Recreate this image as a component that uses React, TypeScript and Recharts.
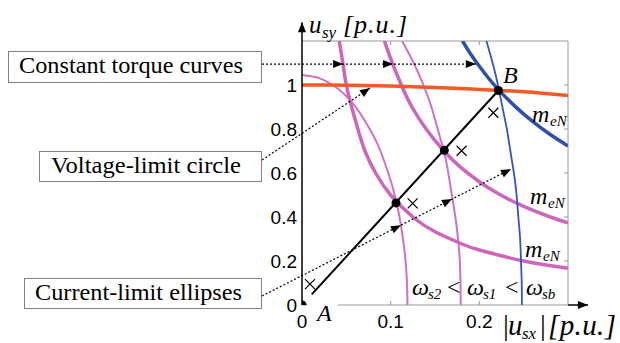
import React from 'react';
import { ComposedChart, Line, XAxis, YAxis, ReferenceLine } from 'recharts';

// tick values
const xTicks = [0, 0.1, 0.2];
const yTicks = [0, 0.2, 0.4, 0.6, 0.8, 1];

// voltage-limit circle (orange)
const voltageLimit = [
  { x: 0, y: 1.0 }, { x: 0.05, y: 0.999 }, { x: 0.1, y: 0.995 }, { x: 0.15, y: 0.989 },
  { x: 0.2, y: 0.98 }, { x: 0.25, y: 0.969 }, { x: 0.3, y: 0.952 },
];

// constant torque curves m_eN (thick)
const torqueLow = [
  { x: 0.042, y: 1.2 }, { x: 0.046, y: 1.1 }, { x: 0.05, y: 1.0 }, { x: 0.056, y: 0.9 },
  { x: 0.063, y: 0.8 }, { x: 0.071, y: 0.7 }, { x: 0.083, y: 0.6 }, { x: 0.1, y: 0.5 },
  { x: 0.125, y: 0.4 }, { x: 0.15, y: 0.333 }, { x: 0.18, y: 0.278 }, { x: 0.2, y: 0.25 },
  { x: 0.25, y: 0.2 }, { x: 0.3, y: 0.167 },
];
const torqueMid = [
  { x: 0.093, y: 1.2 }, { x: 0.1, y: 1.12 }, { x: 0.112, y: 1.0 }, { x: 0.124, y: 0.9 },
  { x: 0.14, y: 0.8 }, { x: 0.16, y: 0.7 }, { x: 0.18, y: 0.622 }, { x: 0.2, y: 0.56 },
  { x: 0.22, y: 0.509 }, { x: 0.25, y: 0.448 }, { x: 0.28, y: 0.4 }, { x: 0.3, y: 0.373 },
];
const torqueRated = [
  { x: 0.181, y: 1.2 }, { x: 0.19, y: 1.142 }, { x: 0.2, y: 1.085 }, { x: 0.21, y: 1.033 },
  { x: 0.22, y: 0.986 }, { x: 0.24, y: 0.904 }, { x: 0.26, y: 0.835 }, { x: 0.28, y: 0.775 },
  { x: 0.3, y: 0.723 },
];

// current-limit ellipses (thin)
const ellipseWs2 = [
  { x: 0, y: 1.045 }, { x: 0.02, y: 1.03 }, { x: 0.04, y: 0.984 }, { x: 0.06, y: 0.903 },
  { x: 0.08, y: 0.774 }, { x: 0.09, y: 0.684 }, { x: 0.1, y: 0.566 }, { x: 0.105, y: 0.492 },
  { x: 0.11, y: 0.399 }, { x: 0.115, y: 0.268 }, { x: 0.118, y: 0.135 }, { x: 0.119, y: 0 },
];
const ellipseWs1 = [
  { x: 0.113, y: 1.2 }, { x: 0.126, y: 1.1 }, { x: 0.137, y: 1.0 }, { x: 0.146, y: 0.9 },
  { x: 0.153, y: 0.8 }, { x: 0.16, y: 0.7 }, { x: 0.165, y: 0.6 }, { x: 0.169, y: 0.5 },
  { x: 0.173, y: 0.4 }, { x: 0.176, y: 0.3 }, { x: 0.178, y: 0.2 }, { x: 0.1788, y: 0.1 },
  { x: 0.179, y: 0 },
];
const ellipseWsb = [
  { x: 0.208, y: 1.2 }, { x: 0.215, y: 1.1 }, { x: 0.221, y: 1.0 }, { x: 0.226, y: 0.9 },
  { x: 0.231, y: 0.8 }, { x: 0.235, y: 0.7 }, { x: 0.239, y: 0.6 }, { x: 0.242, y: 0.5 },
  { x: 0.244, y: 0.4 }, { x: 0.246, y: 0.3 }, { x: 0.247, y: 0.2 }, { x: 0.2478, y: 0.1 },
  { x: 0.248, y: 0 },
];

// trajectory A -> B, operating points and cross marks
const pathAB = [{ x: 0.011, y: 0.048 }, { x: 0.2215, y: 0.975 }];
const opPoints = [{ x: 0, y: 0 }, { x: 0.106, y: 0.464 }, { x: 0.1605, y: 0.703 }, { x: 0.2215, y: 0.975 }];
const crossMarks = [{ x: 0.009, y: 0.095 }, { x: 0.1248, y: 0.462 }, { x: 0.18, y: 0.701 }, { x: 0.2158, y: 0.874 }];

// annotation arrows (start, end in data units) and arrowhead fractions
const torqueArrow = [{ x: -0.0451, y: 1.095 }, { x: 0.196, y: 1.095 }];
const torqueHeads = [0.379, 0.613, 1];
const voltageArrow = [{ x: -0.0451, y: 0.659 }, { x: 0.0767, y: 0.986 }];
const currentArrow = [{ x: -0.0451, y: 0.041 }, { x: 0.2357, y: 0.618 }];
const currentHeads = [0.558, 0.763, 1];

const PINK = '#cc66bb';
const PINK_THIN = '#d070c6';
const BLUE = '#2f4fa8';
const BLUE_THIN = '#3355c0';
const ORANGE = '#f15a24';
const GRAY = '#999';
const SERIF = "'Liberation Serif', 'Times New Roman', Times, serif";

const arrowShape = (heads: number[], dashed: boolean, width = 1.2) => (props: any) => {
  const { x1, y1, x2, y2 } = props;
  const dx = x2 - x1;
  const dy = y2 - y1;
  const len = Math.hypot(dx, dy) || 1;
  const ux = dx / len;
  const uy = dy / len;
  return (
    <g>
      <line x1={x1} y1={y1} x2={x2} y2={y2} stroke="#000" strokeWidth={width}
        strokeDasharray={dashed ? '2 2' : undefined} />
      {heads.map((t, i) => {
        const tx = x1 + dx * t;
        const ty = y1 + dy * t;
        const bx = tx - ux * 10;
        const by = ty - uy * 10;
        return (
          <polygon key={i} fill="#000"
            points={`${tx},${ty} ${bx - uy * 4},${by + ux * 4} ${bx + uy * 4},${by - ux * 4}`} />
        );
      })}
    </g>
  );
};

const renderCross = (p: any) => (
  <path key={`c${p.index}`} d={`M${p.cx - 5},${p.cy - 5}L${p.cx + 5},${p.cy + 5}M${p.cx - 5},${p.cy + 5}L${p.cx + 5},${p.cy - 5}`}
    stroke="#000" strokeWidth={1.2} fill="none" />
);

const sans = { fontFamily: "'Liberation Sans', Arial, sans-serif", fontSize: 19, fill: '#000' };

const Box = ({ x, y, w, h, text, tx, tw }: any) => (
  <g>
    <rect x={x + 0.5} y={y + 0.5} width={w} height={h} fill="#fff" stroke="#808080" strokeWidth={1} />
    <text x={tx} y={y + 22} fontSize={23} fontFamily={SERIF} textLength={tw} lengthAdjust="spacingAndGlyphs">{text}</text>
  </g>
);

const Overlay = () => (
  <svg width={620} height={343} fontFamily={SERIF} style={{ position: 'absolute', left: 0, top: 0, pointerEvents: 'none' }}>
    <Box x={8} y={51} w={253} h={31} text="Constant torque curves" tx={19} tw={224} />
    <Box x={39} y={151} w={222} h={30} text="Voltage-limit circle" tx={51} tw={190} />
    <Box x={24} y={278} w={237} h={30} text="Current-limit ellipses" tx={35} tw={207} />

    {/* y axis title */}
    <g fontStyle="italic" fontFamily={SERIF}>
      <text x={309} y={33} fontSize={25}>u</text>
      <text x={322} y={38} fontSize={17}>sy</text>
      <text x={343} y={33} fontSize={26} textLength={64} lengthAdjust="spacing">[p.u.]</text>
    </g>
    {/* x axis title */}
    <g fontStyle="italic" fontFamily={SERIF}>
      <text x={503} y={335} fontSize={29} fontStyle="normal">|</text>
      <text x={508} y={335} fontSize={29}>u</text>
      <text x={522} y={339} fontSize={17}>sx</text>
      <text x={540} y={335} fontSize={29} fontStyle="normal">|</text>
      <text x={548} y={335} fontSize={29} textLength={68} lengthAdjust="spacing">[p.u.]</text>
    </g>

    {/* point labels */}
    <rect x={307} y={302} width={31} height={6} fill="#fff" />
    <text x={317} y={321} fontSize={24} fontStyle="italic" fontFamily={SERIF}>A</text>
    <text x={503} y={83} fontSize={24} fontStyle="italic" fontFamily={SERIF}>B</text>

    {/* m_eN labels */}
    <g fontStyle="italic" fontFamily={SERIF}>
      <text x={532} y={122} fontSize={24}>m</text>
      <text x={550} y={126} fontSize={15}>eN</text>
      <text x={530} y={204} fontSize={24}>m</text>
      <text x={548} y={208} fontSize={15}>eN</text>
      <text x={525} y={257} fontSize={24}>m</text>
      <text x={543} y={261} fontSize={15}>eN</text>
    </g>

    {/* frequency ordering */}
    <g fontFamily={SERIF}>
      <text x={412} y={295} fontSize={24} fontStyle="italic">ω</text>
      <text x={428} y={299} fontSize={15} fontStyle="italic">s2</text>
      <text x={447} y={295} fontSize={24}>&lt;</text>
      <text x={467} y={295} fontSize={24} fontStyle="italic">ω</text>
      <text x={483} y={299} fontSize={15} fontStyle="italic">s1</text>
      <text x={505} y={295} fontSize={24}>&lt;</text>
      <text x={526} y={295} fontSize={24} fontStyle="italic">ω</text>
      <text x={542} y={299} fontSize={15} fontStyle="italic">sb</text>
    </g>
  </svg>
);

export default function App() {
  return (
    <div style={{ position: 'absolute', left: 0, top: 0, width: 620, height: 343, background: '#fff' }}>
      <ComposedChart width={620} height={343} margin={{ top: 41, right: 52, bottom: 0, left: 0 }}>
        <XAxis dataKey="x" type="number" domain={[0, 0.3]} ticks={xTicks} allowDataOverflow
          axisLine={false} tickLine={false} tickSize={6} tickMargin={4} height={38} tick={sans} />
        <YAxis dataKey="y" type="number" domain={[0, 1.2]} ticks={yTicks} allowDataOverflow width={302}
          axisLine={{ stroke: '#000', strokeWidth: 1.5 }} tickLine={false} tickSize={3} tickMargin={2} tick={sans} />

        {/* plot frame */}
        <ReferenceLine y={1.2} stroke={GRAY} />
        <ReferenceLine x={0.3} stroke={GRAY} />
        <ReferenceLine y={0} stroke={GRAY} />
        {xTicks.slice(1).map(t => (
          <ReferenceLine key={`tt${t}`} segment={[{ x: t, y: 1.2 }, { x: t, y: 1.182 }]} stroke={GRAY} />
        ))}
        {xTicks.slice(1).map(t => (
          <ReferenceLine key={`tb${t}`} segment={[{ x: t, y: 0 }, { x: t, y: 0.018 }]} stroke={GRAY} />
        ))}
        {yTicks.slice(1).map(t => (
          <ReferenceLine key={`tr${t}`} segment={[{ x: 0.3, y: t }, { x: 0.2955, y: t }]} stroke={GRAY} />
        ))}

        <Line data={ellipseWs2} dataKey="y" type="natural" stroke={PINK_THIN} strokeWidth={2} dot={false} isAnimationActive={false} />
        <Line data={ellipseWs1} dataKey="y" type="natural" stroke={PINK_THIN} strokeWidth={2} dot={false} isAnimationActive={false} />
        <Line data={torqueLow} dataKey="y" type="natural" stroke={PINK} strokeWidth={3.5} dot={false} isAnimationActive={false} />
        <Line data={torqueMid} dataKey="y" type="natural" stroke={PINK} strokeWidth={3.5} dot={false} isAnimationActive={false} />
        <Line data={ellipseWsb} dataKey="y" type="natural" stroke={BLUE_THIN} strokeWidth={1.8} dot={false} isAnimationActive={false} />
        <Line data={torqueRated} dataKey="y" type="natural" stroke={BLUE} strokeWidth={3.5} dot={false} isAnimationActive={false} />
        <Line data={voltageLimit} dataKey="y" type="natural" stroke={ORANGE} strokeWidth={3.5} dot={false} isAnimationActive={false} />
        <Line data={pathAB} dataKey="y" type="linear" stroke="#000" strokeWidth={2} dot={false} isAnimationActive={false} />
        <Line data={opPoints} dataKey="y" stroke="none" dot={{ r: 4.5, fill: '#000', stroke: 'none' }} isAnimationActive={false} />
        <Line data={crossMarks} dataKey="y" stroke="none" dot={renderCross} isAnimationActive={false} />

        {/* annotation arrows */}
        <ReferenceLine segment={torqueArrow} ifOverflow="visible" shape={arrowShape(torqueHeads, true)} />
        <ReferenceLine segment={voltageArrow} ifOverflow="visible" shape={arrowShape([1], true)} />
        <ReferenceLine segment={currentArrow} ifOverflow="visible" shape={arrowShape(currentHeads, true)} />

        {/* axis arrows */}
        <ReferenceLine segment={[{ x: 0, y: 1.2 }, { x: 0, y: 1.285 }]} ifOverflow="visible" shape={arrowShape([1], false, 1.5)} />
        <ReferenceLine segment={[{ x: 0.3, y: 0 }, { x: 0.3225, y: 0 }]} ifOverflow="visible" shape={arrowShape([1], false, 1.5)} />
      </ComposedChart>
      <Overlay />
    </div>
  );
}
